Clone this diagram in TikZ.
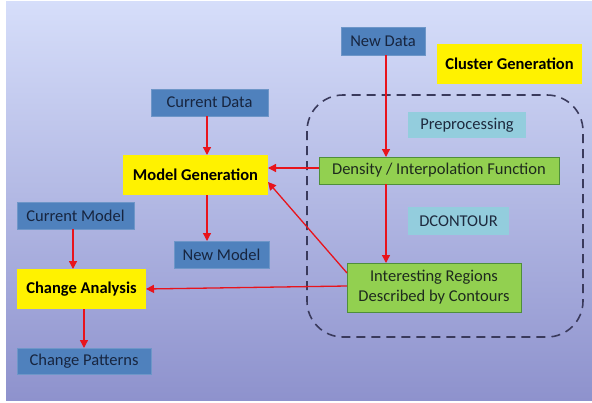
\documentclass[tikz,border=0pt]{standalone}
\usepackage{fontspec}
\setmainfont{Carlito}
\usetikzlibrary{arrows.meta,calc}
\definecolor{bgtop}{HTML}{D6DEFA}
\definecolor{bgbot}{HTML}{8E92CD}
\definecolor{boxblue}{HTML}{4F81BD}
\definecolor{blueline}{HTML}{6E96C8}
\definecolor{bluetext}{HTML}{17253F}
\definecolor{boxgreen}{HTML}{92D050}
\definecolor{greenline}{HTML}{4E8F3A}
\definecolor{greentext}{HTML}{1E2A1E}
\definecolor{boxcyan}{HTML}{93CDDD}
\definecolor{cyantext}{HTML}{1E2A3E}
\definecolor{arrowred}{HTML}{E8141C}
\definecolor{dashcol}{HTML}{3A3A5C}
\begin{document}
\begin{tikzpicture}[x=1pt,y=-1pt,
  every node/.style={font=\fontsize{16.5}{20}\selectfont, inner sep=0pt, outer sep=0pt},
  bluebox/.style={fill=boxblue, draw=blueline, line width=0.8pt, text=bluetext},
  greenbox/.style={fill=boxgreen, draw=greenline, line width=0.8pt, text=greentext, align=center},
  cyanbox/.style={fill=boxcyan, text=cyantext},
  yellowbox/.style={fill=yellow, text=black, font=\fontsize{16.5}{20}\selectfont\bfseries},
  arr/.style={draw=arrowred, line width=1.3pt, -{Triangle[length=8pt,width=8pt]}},
  dashbox/.style={draw=dashcol, line width=1.6pt, dash pattern=on 9pt off 6pt, rounded corners=36pt}
]
\useasboundingbox (0,0) rectangle (592,402);
\fill[white] (0,0) rectangle (592,402);
\shade[top color=bgtop, bottom color=bgbot] (6,1) rectangle (592,400);

% dashed cluster region
\draw[dashbox] (307,95) rectangle (583,337);

% nodes
\node[bluebox, minimum width=84pt, minimum height=28pt] (newdata) at (383,41) {New Data};
\node[yellowbox, minimum width=145pt, minimum height=40pt] (cluster) at (509.5,64) {Cluster Generation};
\node[bluebox, minimum width=117pt, minimum height=27pt] (curdata) at (209.5,102.5) {Current Data};
\node[yellowbox, minimum width=145pt, minimum height=40pt] (modelgen) at (195.5,175) {Model Generation};
\node[cyanbox, minimum width=118pt, minimum height=26pt] (prep) at (467,125) {Preprocessing};
\node[greenbox, minimum width=240pt, minimum height=27pt] (density) at (439,170.5) {Density / Interpolation Function};
\node[cyanbox, minimum width=101pt, minimum height=28pt] (dcontour) at (458.5,221) {DCONTOUR};
\node[greenbox, minimum width=174pt, minimum height=49pt] (interest) at (434,287.5) {Interesting Regions\\Described by Contours};
\node[bluebox, minimum width=117pt, minimum height=27pt] (curmodel) at (75.5,215.5) {Current Model};
\node[bluebox, minimum width=95pt, minimum height=27pt] (newmodel) at (221.5,254.5) {New Model};
\node[yellowbox, minimum width=129pt, minimum height=40pt] (change) at (81.5,289) {Change Analysis};
\node[bluebox, minimum width=134pt, minimum height=26pt] (patterns) at (84,361) {Change Patterns};

% connectors
\draw[arr] ([xshift=3pt]newdata.south) -- ([xshift=3pt]newdata.south |- density.north);
\draw[arr] ([xshift=3pt]newdata.south |- density.south) -- ([xshift=3pt]newdata.south |- interest.north);
\draw[arr] ([xshift=-2.5pt]curdata.south) -- ([xshift=-2.5pt]curdata.south |- modelgen.north);
\draw[arr] ([yshift=2.5pt]density.west) -- ([yshift=2.5pt]density.west -| modelgen.east);
\draw[arr] ([yshift=14.5pt]interest.west) -- ([yshift=-7pt]modelgen.east);
\draw[arr] ([yshift=1.5pt]interest.west) -- (change.east);
\draw[arr] ([xshift=11.5pt]modelgen.south) -- ([xshift=11.5pt]modelgen.south |- newmodel.north);
\draw[arr] ([xshift=-2.5pt]curmodel.south) -- ([xshift=-2.5pt]curmodel.south |- change.north);
\draw[arr] ([xshift=2.5pt]change.south) -- ([xshift=2.5pt]change.south |- patterns.north);
\end{tikzpicture}
\end{document}
